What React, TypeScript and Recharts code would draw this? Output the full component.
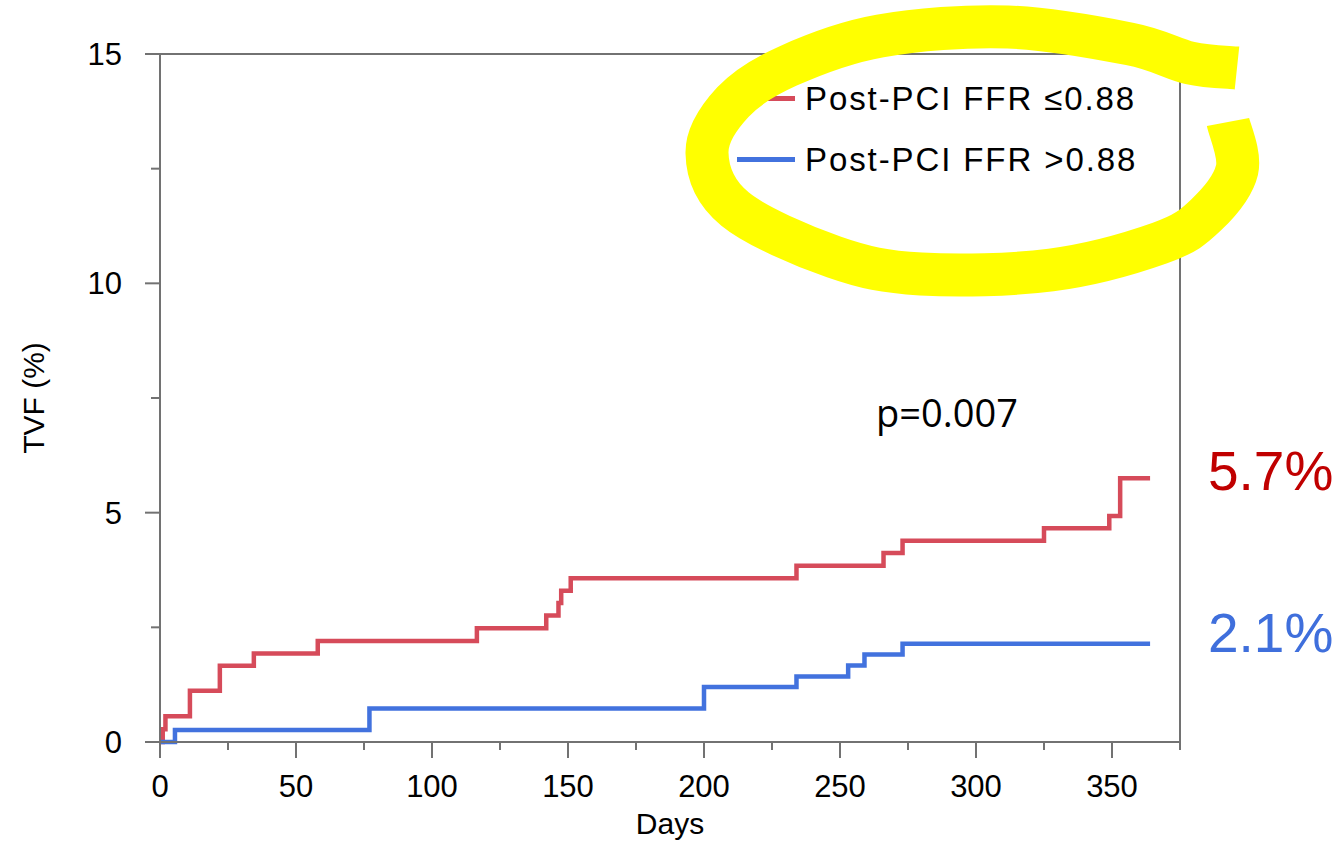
import React from 'react';
import { LineChart, Line, XAxis, YAxis, ReferenceLine, Legend, Label } from 'recharts';

// Kaplan-Meier style cumulative TVF (%) by day
const lowFfrDays = [0, 1, 2, 11, 22, 34.5, 58, 116.5, 142, 146.5, 147.5, 151, 234, 266, 273, 325, 349, 353, 364];
const lowFfrRates = [0, 0.28, 0.56, 1.12, 1.66, 1.93, 2.2, 2.48, 2.76, 3.03, 3.3, 3.57, 3.84, 4.12, 4.39, 4.66, 4.93, 5.75, 5.75];

const highFfrDays = [0, 5.5, 77, 200, 234, 253, 259, 273, 364];
const highFfrRates = [0, 0.26, 0.73, 1.2, 1.43, 1.67, 1.91, 2.14, 2.14];

const xTicks = [0, 25, 50, 75, 100, 125, 150, 175, 200, 225, 250, 275, 300, 325, 350, 375];
const xLabels = [0, 50, 100, 150, 200, 250, 300, 350];
const yTicks = [0, 2.5, 5, 7.5, 10, 12.5, 15];
const yLabels = [0, 5, 10, 15];

const pValue = 'p=0.007';
const endLabels = ['5.7%', '2.1%'];

const toPoints = (days: number[], rates: number[]) => days.map((d, i) => ({ day: d, rate: rates[i] }));

const series = [
  { name: 'Post-PCI FFR ≤0.88', color: '#d64b5a', data: toPoints(lowFfrDays, lowFfrRates) },
  { name: 'Post-PCI FFR >0.88', color: '#4272de', data: toPoints(highFfrDays, highFfrRates) },
];

const axisGray = '#727272';
const font = '"Liberation Sans", Arial, Helvetica, sans-serif';

// highlighter ring drawn over the legend (decoration, not data)
const ringPoints: [number, number][] = [
  [1228, 122], [1237, 170], [1206, 215], [1160, 243], [1051, 270], [921, 274], [834, 257],
  [735, 209], [707, 153], [733, 102], [788, 66], [880, 36], [1008, 27], [1130, 44], [1190, 63], [1237, 68],
];

const smoothPath = (pts: [number, number][]) => {
  let d = `M ${pts[0][0]} ${pts[0][1]}`;
  for (let i = 0; i < pts.length - 1; i++) {
    const p0 = pts[i - 1] || pts[i];
    const p1 = pts[i];
    const p2 = pts[i + 1];
    const p3 = pts[i + 2] || p2;
    const c1x = p1[0] + (p2[0] - p0[0]) / 6;
    const c1y = p1[1] + (p2[1] - p0[1]) / 6;
    const c2x = p2[0] - (p3[0] - p1[0]) / 6;
    const c2y = p2[1] - (p3[1] - p1[1]) / 6;
    d += ` C ${c1x} ${c1y}, ${c2x} ${c2y}, ${p2[0]} ${p2[1]}`;
  }
  return d;
};

const XTick = (props: any) => {
  const { x, y, payload } = props;
  const major = xLabels.includes(payload.value);
  return (
    <g>
      <line x1={x} y1={y} x2={x} y2={y + (major ? 16 : 8)} stroke={axisGray} strokeWidth={2} />
      {major && (
        <text x={x} y={y + 55} textAnchor="middle" fontSize={31} fontFamily={font} fill="#000">
          {payload.value}
        </text>
      )}
    </g>
  );
};

const YTick = (props: any) => {
  const { x, y, payload } = props;
  const major = yLabels.includes(payload.value);
  return (
    <g>
      <line x1={x - (major ? 15 : 9)} y1={y} x2={x} y2={y} stroke={axisGray} strokeWidth={2} />
      {major && (
        <text x={x - 38} y={y + 11} textAnchor="end" fontSize={31} fontFamily={font} fill="#000">
          {payload.value}
        </text>
      )}
    </g>
  );
};

const YTitle = (props: any) => {
  const vb = props.viewBox || { x: 0, y: 54, width: 160, height: 688 };
  const cx = vb.x + vb.width - 127;
  const cy = vb.y + vb.height / 2;
  return (
    <text
      x={cx}
      y={cy}
      transform={`rotate(-90 ${cx} ${cy})`}
      textAnchor="middle"
      dominantBaseline="central"
      fontSize={30}
      fontFamily={font}
      fill="#000"
    >
      TVF (%)
    </text>
  );
};

const KmLegend = () => (
  <div style={{ fontFamily: font, fontSize: 33, letterSpacing: 1.9, color: '#000' }}>
    {series.map((s) => (
      <div key={s.name} style={{ display: 'flex', alignItems: 'center', height: 61 }}>
        <div style={{ width: 58, height: 5, background: s.color, marginRight: 10 }} />
        <span style={{ lineHeight: 1, whiteSpace: 'nowrap' }}>{s.name}</span>
      </div>
    ))}
  </div>
);

export default function App() {
  return (
    <div style={{ position: 'absolute', left: 0, top: 0, width: 1342, height: 844, background: '#fff' }}>
      <LineChart width={1342} height={844} margin={{ top: 54, right: 162, bottom: 8, left: 0 }}>
        <XAxis
          type="number"
          dataKey="day"
          domain={[0, 375]}
          ticks={xTicks}
          interval={0}
          allowDataOverflow
          height={94}
          tickSize={0}
          tickMargin={0}
          tickLine={false}
          tick={<XTick />}
          axisLine={{ stroke: axisGray, strokeWidth: 2 }}
        >
          <Label value="Days" position="insideBottom" offset={2} fontSize={30} fontFamily={font} fill="#000" />
        </XAxis>
        <YAxis
          type="number"
          dataKey="rate"
          domain={[0, 15]}
          ticks={yTicks}
          interval={0}
          width={160}
          tickSize={0}
          tickMargin={0}
          tickLine={false}
          tick={<YTick />}
          axisLine={{ stroke: axisGray, strokeWidth: 2 }}
          label={{ content: YTitle }}
        />
        <ReferenceLine y={15} stroke={axisGray} strokeWidth={2} />
        <ReferenceLine x={375} stroke={axisGray} strokeWidth={2} />
        {series.map((s) => (
          <Line
            key={s.name}
            data={s.data}
            dataKey="rate"
            name={s.name}
            type="stepAfter"
            stroke={s.color}
            strokeWidth={4.5}
            dot={false}
            activeDot={false}
            isAnimationActive={false}
          />
        ))}
        <Legend
          layout="vertical"
          align="center"
          verticalAlign="middle"
          wrapperStyle={{ left: 737, top: 68, width: 440 }}
          content={() => <KmLegend />}
        />
      </LineChart>
      <svg
        width={1342}
        height={844}
        style={{ position: 'absolute', left: 0, top: 0, pointerEvents: 'none' }}
      >
        <text x={876} y={427} fontSize={38} fontFamily='"Open Sans", sans-serif' fill="#000">
          {pValue}
        </text>
        <text x={1208} y={490} fontSize={55} fontFamily={font} fill="#c00000">
          {endLabels[0]}
        </text>
        <text x={1208} y={652} fontSize={55} fontFamily={font} fill="#3f6fdc">
          {endLabels[1]}
        </text>
        <path d={smoothPath(ringPoints)} fill="none" stroke="#ffff00" strokeWidth={43} strokeLinecap="butt" />
      </svg>
    </div>
  );
}
